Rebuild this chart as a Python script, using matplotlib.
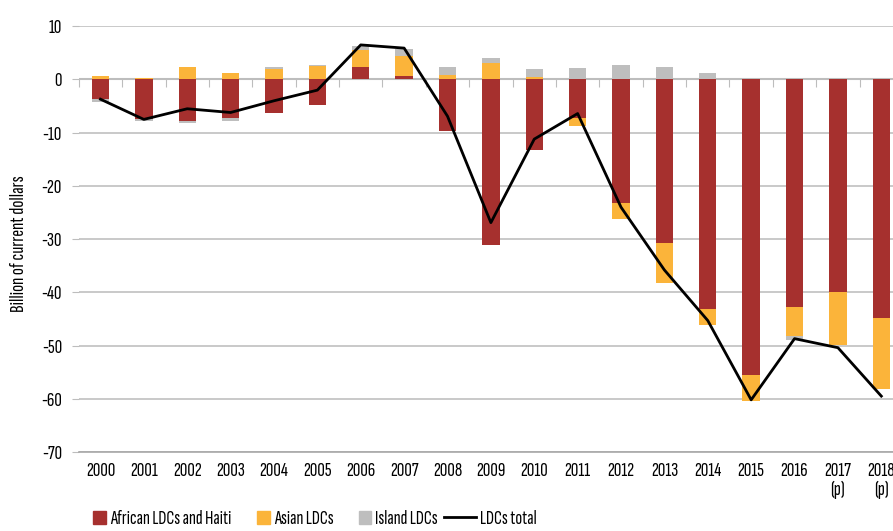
import numpy as np
import matplotlib
matplotlib.use('Agg')
import matplotlib.pyplot as plt
from matplotlib.patches import Rectangle, Patch
from matplotlib.lines import Line2D
from matplotlib.legend_handler import HandlerPatch

plt.rcParams['font.family'] = ['Sofia Sans Extra Condensed', 'Roboto Condensed', 'DejaVu Sans']
plt.rcParams['axes.unicode_minus'] = False

# Data (billion of current dollars)
years = ['2000', '2001', '2002', '2003', '2004', '2005', '2006', '2007', '2008',
         '2009', '2010', '2011', '2012', '2013', '2014', '2015', '2016',
         '2017\n(p)', '2018\n(p)']
african = [-3.7, -7.5, -7.8, -7.3, -6.3, -4.7, 2.4, 0.75, -9.6,
           -31.1, -13.25, -7.2, -23.2, -30.7, -43.1, -55.5, -42.8, -39.9, -44.8]
asian = [0.6, 0.2, 2.3, 1.3, 1.9, 2.5, 3.2, 3.75, 0.8,
         3.1, 0.4, -1.5, -3.0, -7.5, -3.0, -4.9, -5.4, -10.0, -13.3]
island = [-0.5, -0.3, -0.4, -0.5, 0.4, 0.3, 0.75, 1.25, 1.5,
          0.9, 1.6, 2.1, 2.7, 2.35, 1.2, 0.2, -0.8, 0.1, 0.0]
ldc_total = [-3.7, -7.5, -5.5, -6.2, -4.0, -2.0, 6.5, 5.9, -6.9,
             -26.9, -11.2, -6.4, -24.0, -35.8, -45.3, -60.2, -48.7, -50.4, -59.5]

series_names = ['African LDCs and Haiti', 'Asian LDCs', 'Island LDCs']
colors = ['#A6302E', '#FBB43A', '#BEBEBE']

fig = plt.figure(figsize=(8.93, 5.31), dpi=100)
ax = fig.add_axes([0.0882, 0.1488, 0.923, 0.8017])

x = np.arange(len(years))
pos_base = np.zeros(len(years))
neg_base = np.zeros(len(years))
for vals, name, c in zip([african, asian, island], series_names, colors):
    vals = np.array(vals)
    bottom = np.where(vals >= 0, pos_base, neg_base)
    ax.bar(x, vals, width=0.4, bottom=bottom, color=c, label=name, zorder=3)
    pos_base += np.where(vals >= 0, vals, 0)
    neg_base += np.where(vals < 0, vals, 0)

ax.plot(x, ldc_total, color='black', linewidth=2, label='LDCs total', zorder=4)

# axes styling
ax.set_xlim(-0.5, len(years) - 0.5)
ax.set_ylim(-70, 10)
ax.set_yticks(np.arange(-70, 11, 10))
ax.grid(axis='y', color='#C0C0C0', linewidth=1.2, zorder=0)
ax.axhline(0, color='#BDBDBD', linewidth=1.5, zorder=2)
for s in ['top', 'right', 'left']:
    ax.spines[s].set_visible(False)
ax.spines['bottom'].set_color('#A8A8A8')
ax.spines['bottom'].set_linewidth(1.2)

ax.set_xticks(x)
ax.set_xticklabels(years, fontsize=15, linespacing=1.05)
ax.tick_params(axis='x', length=0, pad=7)
ax.tick_params(axis='y', labelsize=15, length=5, color='#BDBDBD', pad=7)
ax.set_ylabel('Billion of current dollars', fontsize=15)
ax.yaxis.set_label_coords(-0.062, 0.49)

# category boundary ticks hanging from the zero line
sec = ax.secondary_xaxis(70 / 80)
sec.set_xticks(np.arange(-0.5, len(years), 1))
sec.tick_params(direction='in', length=6, color='#BDBDBD', labeltop=False,
                labelbottom=False)
for s in sec.spines.values():
    s.set_visible(False)


def small_square(legend, orig_handle, xdescent, ydescent, width, height, fontsize):
    sz = 0.62 * fontsize
    return Rectangle((-xdescent + width - sz, -ydescent + (height - sz) / 2), sz, sz)


handles = [Patch(color=c) for c in colors]
handles.append(Line2D([], [], color='black', linewidth=2))
labels = series_names + ['LDCs total']
fig.legend(handles, labels, loc='center', bbox_to_anchor=(0.342, 0.022), ncol=4,
           frameon=False, fontsize=14.5, handlelength=1.6, handletextpad=0.2,
           columnspacing=0.3, borderpad=0.2,
           handler_map={Patch: HandlerPatch(patch_func=small_square)})

fig.savefig('out.png', dpi=100)
